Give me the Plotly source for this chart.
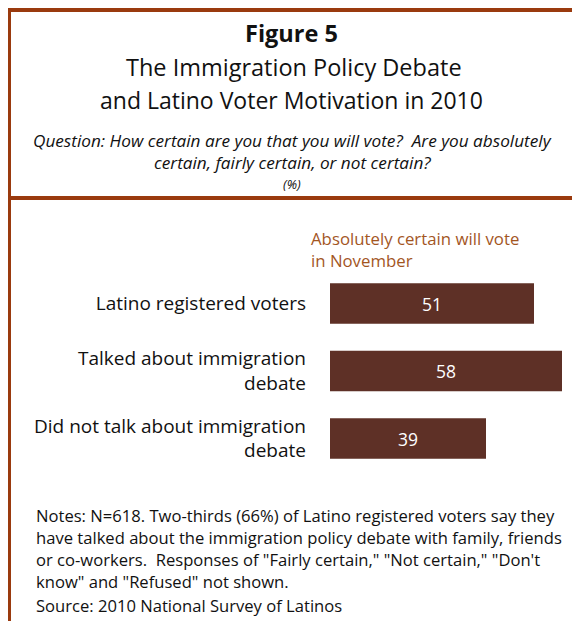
import plotly.graph_objects as go

# ---- data ----
categories = ["Latino registered voters",
              "Talked about immigration<br>debate",
              "Did not talk about immigration<br>debate"]
values = [51, 58, 39]
series_name = "Absolutely certain will vote<br>in November"

W, H = 580, 621
OFF = 8  # page body margin
BORDER = "#9A3A0E"
BAR = "#5E3026"
LABEL = "#A3561F"
FONT = "Open Sans"
INK = "#111111"

def fx(wx):
    return (wx - OFF) / W

def fy(wy):
    return 1 - (wy - OFF) / H

fig = go.Figure()
fig.add_trace(go.Bar(
    x=values, y=[0, 1, 2], orientation="h",
    marker=dict(color=BAR, line=dict(width=0)),
    width=0.6,
    text=[str(v) for v in values], textposition="inside",
    insidetextanchor="middle", textangle=0,
    textfont=dict(color="white", size=17.5, family=FONT),
    hoverinfo="skip", showlegend=False,
))

# bar centres at window y 303.5, 371, 438.5 -> step 67.5
ytop, ybot = 303.5 - 33.75, 438.5 + 33.75
x0_win = 330
fig.update_layout(
    width=W, height=H, autosize=False,
    margin=dict(l=0, r=0, t=0, b=0),
    paper_bgcolor="white", plot_bgcolor="white",
    font=dict(family=FONT, color=INK),
    xaxis=dict(domain=[fx(x0_win), 1], range=[0, (W - (x0_win - OFF)) / 4.0],
               visible=False, fixedrange=True),
    yaxis=dict(domain=[fy(ybot), fy(ytop)], range=[2.5, -0.5],
               tickmode="array", tickvals=[0, 1, 2], ticktext=categories,
               showgrid=False, zeroline=False, showline=False, ticks="",
               ticklabelstandoff=23,
               tickfont=dict(size=19, family=FONT, color=INK)),
)

ann = []
def add(text, x, y, size, color=INK, xanchor="center", italic=False, bold=False):
    if italic:
        text = "<i>" + text + "</i>"
    if bold:
        text = "<b>" + text + "</b>"
    ann.append(dict(text=text, x=fx(x), y=fy(y), xref="paper", yref="paper",
                    xanchor=xanchor, yanchor="middle", showarrow=False, align="left",
                    font=dict(size=size, color=color, family=FONT)))

add("Figure 5", 291, 33, 23.5, bold=True)
add("The Immigration Policy Debate", 294, 67, 23.5)
add("and Latino Voter Motivation in 2010", 291, 100, 23)
add("Question: How certain are you that you will vote?  Are you absolutely", 292, 140, 17.2, italic=True)
add("certain, fairly certain, or not certain?", 292, 162, 17.2, italic=True)
add("(%)", 292, 184, 13, italic=True)
add(series_name, 309, 250, 16.8, color=LABEL, xanchor="left")
notes = ["Notes: N=618. Two-thirds (66%) of Latino registered voters say they",
         "have talked about the immigration policy debate with family, friends",
         "or co-workers.  Responses of \"Fairly certain,\" \"Not certain,\" \"Don't",
         "know\" and \"Refused\" not shown."]
for i, ln in enumerate(notes):
    add(ln, 34, 515 + 22 * i, 16.6, xanchor="left")
add("Source: 2010 National Survey of Latinos", 34, 605, 16.6, xanchor="left")
fig.update_layout(annotations=ann)

shapes = []
def line(x0, y0, x1, y1):
    shapes.append(dict(type="line", xref="paper", yref="paper",
                       x0=fx(x0), y0=fy(y0), x1=fx(x1), y1=fy(y1),
                       line=dict(color=BORDER, width=4)))
line(7, 10, 580, 10)      # top
line(9, 8, 9, 640)        # left
line(578, 8, 578, 640)    # right
line(9, 198, 578, 198)    # divider
fig.update_layout(shapes=shapes)

fig.write_html("out.html")
